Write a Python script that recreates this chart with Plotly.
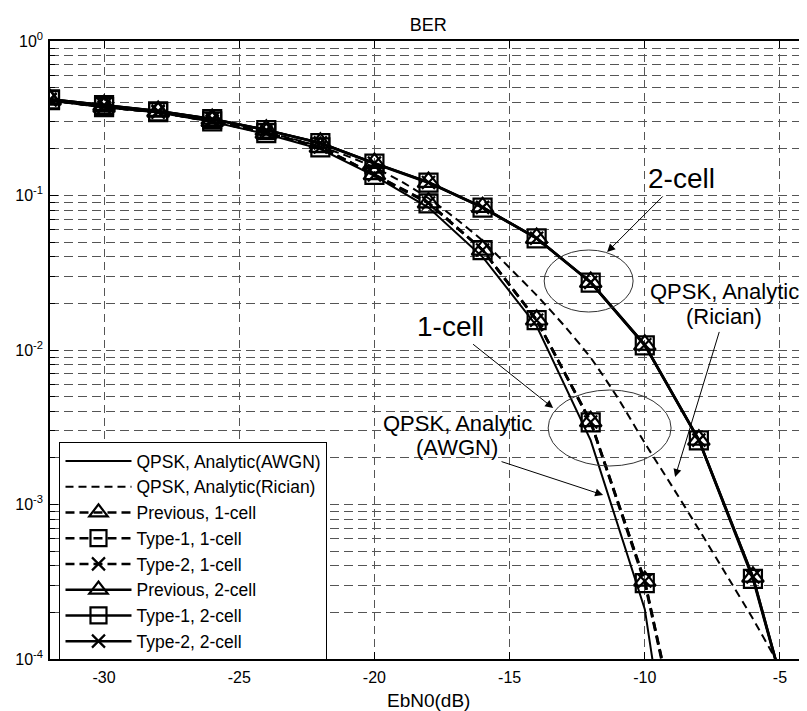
import plotly.graph_objects as go

# ---------------- data ----------------
ebn0_awgn = [-32, -30, -28, -26, -24, -22, -20, -18, -16, -14, -12, -10, -8]
ber_awgn = [0.410, 0.372, 0.344, 0.300, 0.250, 0.200, 0.134, 0.0835, 0.040, 0.0143, 0.0026, 0.00021, 1.05e-6]

ebn0_rician = [-32, -31, -30, -29, -28, -27, -26, -25, -24, -23, -22, -21, -20, -19, -18,
               -17, -16, -15, -14, -13, -12, -11, -10, -9, -8, -7, -6, -5, -4]
ber_rician = [0.412, 0.392, 0.374, 0.360, 0.346, 0.326, 0.305, 0.281, 0.256, 0.232, 0.207,
              0.180, 0.152, 0.123, 0.096, 0.071, 0.051, 0.034, 0.0226, 0.0145, 0.0089,
              0.0049, 0.0025, 0.00132, 0.00069, 0.000355, 0.000182, 8.9e-5, 4.3e-5]

ebn0_1cell = [-32, -30, -28, -26, -24, -22, -20, -18, -16, -14, -12, -10, -8]
prev_1cell = [0.415, 0.374, 0.347, 0.303, 0.254, 0.206, 0.137, 0.0900, 0.0445, 0.0157, 0.00345, 0.00032, 8.0e-6]
type1_1cell = [0.414, 0.373, 0.346, 0.302, 0.253, 0.205, 0.136, 0.0890, 0.0443, 0.0156, 0.00340, 0.00031, 7.6e-6]
type2_1cell = [0.415, 0.374, 0.346, 0.303, 0.254, 0.206, 0.136, 0.0895, 0.0444, 0.0156, 0.00342, 0.00032, 7.8e-6]

ebn0_2cell = [-32, -30, -28, -26, -24, -22, -20, -18, -16, -14, -12, -10, -8, -6, -4]
prev_2cell = [0.420, 0.385, 0.352, 0.313, 0.266, 0.219, 0.162, 0.122, 0.0840, 0.0530, 0.0275, 0.0108, 0.00262, 0.00034, 1.8e-5]
type1_2cell = [0.419, 0.384, 0.351, 0.312, 0.265, 0.218, 0.161, 0.121, 0.0835, 0.0528, 0.0273, 0.0107, 0.00260, 0.00033, 1.8e-5]
type2_2cell = [0.420, 0.385, 0.352, 0.313, 0.265, 0.219, 0.162, 0.1215, 0.0838, 0.0529, 0.0274, 0.0108, 0.00261, 0.00034, 1.8e-5]

x_ticks = [-30, -25, -20, -15, -10, -5]
x_ticktext = ["-30", "-25", "-20", "-15", "-10", "-5"]
y_ticks = [1e-4, 1e-3, 1e-2, 1e-1, 1]
y_ticktext = ["10<sup>-4</sup>", "10<sup>-3</sup>", "10<sup>-2</sup>", "10<sup>-1</sup>", "10<sup>0</sup>"]
y_minor = [m * 10.0 ** e for e in range(-4, 0) for m in range(2, 10)]

FONT = "Arial, Liberation Sans, sans-serif"
BLK = "#000000"

fig = go.Figure()

fig.add_trace(go.Scatter(x=ebn0_awgn, y=ber_awgn, mode="lines", name="QPSK, Analytic(AWGN)",
                         line=dict(color=BLK, width=2)))
fig.add_trace(go.Scatter(x=ebn0_rician, y=ber_rician, mode="lines", name="QPSK, Analytic(Rician)",
                         line=dict(color=BLK, width=2, dash="8px,5px", shape="spline", smoothing=0.6)))

sim_dash = "9px,5px"
mk_line = dict(color=BLK, width=2.2)
fig.add_trace(go.Scatter(x=ebn0_1cell, y=prev_1cell, mode="lines+markers", name="Previous, 1-cell",
                         line=dict(color=BLK, width=2.5, dash=sim_dash),
                         marker=dict(symbol="triangle-up-open", size=19, color=BLK, line=mk_line)))
fig.add_trace(go.Scatter(x=ebn0_1cell, y=type1_1cell, mode="lines+markers", name="Type-1, 1-cell",
                         line=dict(color=BLK, width=2.5, dash=sim_dash),
                         marker=dict(symbol="square-open", size=18, color=BLK, line=mk_line)))
fig.add_trace(go.Scatter(x=ebn0_1cell, y=type2_1cell, mode="lines+markers", name="Type-2, 1-cell",
                         line=dict(color=BLK, width=2.5, dash=sim_dash),
                         marker=dict(symbol="x-thin-open", size=13, color=BLK, line=mk_line)))
fig.add_trace(go.Scatter(x=ebn0_2cell, y=prev_2cell, mode="lines+markers", name="Previous, 2-cell",
                         line=dict(color=BLK, width=2.5),
                         marker=dict(symbol="triangle-up-open", size=19, color=BLK, line=mk_line)))
fig.add_trace(go.Scatter(x=ebn0_2cell, y=type1_2cell, mode="lines+markers", name="Type-1, 2-cell",
                         line=dict(color=BLK, width=2.5),
                         marker=dict(symbol="square-open", size=18, color=BLK, line=mk_line)))
fig.add_trace(go.Scatter(x=ebn0_2cell, y=type2_2cell, mode="lines+markers", name="Type-2, 2-cell",
                         line=dict(color=BLK, width=2.5),
                         marker=dict(symbol="x-thin-open", size=13, color=BLK, line=mk_line)))

GRID = "#555555"
fig.update_xaxes(range=[-32, -4], tickmode="array", tickvals=x_ticks, ticktext=x_ticktext,
                 automargin=False,
                 showline=True, linecolor=BLK, linewidth=1.5, mirror="allticks",
                 ticks="inside", ticklen=7, tickcolor=BLK, tickwidth=1,
                 showgrid=True, gridcolor=GRID, gridwidth=1, griddash="8px,5px",
                 zeroline=False, ticklabelstandoff=3,
                 tickfont=dict(family=FONT, size=16, color=BLK))
fig.update_yaxes(type="log", range=[-4, 0], tickmode="array", tickvals=y_ticks, ticktext=y_ticktext,
                 automargin=False,
                 showline=True, linecolor=BLK, linewidth=1.5, mirror=False,
                 ticks="inside", ticklen=8, tickcolor=BLK, tickwidth=1,
                 showgrid=True, gridcolor=GRID, gridwidth=1, griddash="9px,5px",
                 zeroline=False, ticklabelstandoff=2,
                 tickfont=dict(family=FONT, size=16, color=BLK),
                 minor=dict(tickmode="array", tickvals=y_minor, ticks="inside", ticklen=5,
                            tickcolor=BLK, showgrid=True, gridcolor=GRID, gridwidth=1,
                            griddash="9px,5px"))

# The page body has an 8px default margin, so figure coordinates = window - 8.
OFF = 8
PL, PR, PT, PB = 49.5, 807, 41, 659          # plot area in window pixels
PW, PH = PR - PL, PB - PT


def px(xw):
    return (xw - PL) / PW


def py(yw):
    return (PB - yw) / PH


def txt(s, xw, yw, size):
    return dict(text=s, xref="paper", yref="paper", x=px(xw), y=py(yw), showarrow=False,
                xanchor="center", yanchor="middle", font=dict(family=FONT, size=size, color=BLK))


def arrow_txt(s, tip, center, size):
    return dict(text=s, xref="paper", yref="paper", x=px(tip[0]), y=py(tip[1]),
                ax=center[0] - tip[0], ay=center[1] - tip[1],
                showarrow=True, arrowhead=2, arrowsize=1.6, arrowwidth=1, arrowcolor=BLK,
                standoff=0, startstandoff=2,
                font=dict(family=FONT, size=size, color=BLK))


annotations = [
    txt("EbN0(dB)", 428, 700, 19),
    arrow_txt("2-cell", (607, 252), (681, 178), 28),
    arrow_txt("1-cell", (553, 408), (450, 326), 28),
    txt("QPSK, Analytic", 724.5, 291, 22),
    arrow_txt("(Rician)", (675, 477), (724, 316), 22),
    txt("QPSK, Analytic", 457, 423, 22),
    arrow_txt("(AWGN)", (603, 495), (457, 447), 22),
]

shapes = [
    dict(type="circle", xref="paper", yref="paper", x0=px(544), x1=px(633), y0=py(312), y1=py(250),
         line=dict(color="#333333", width=1)),
    dict(type="circle", xref="paper", yref="paper", x0=px(548), x1=px(671), y0=py(466), y1=py(390),
         line=dict(color="#333333", width=1)),
]

W, H = 807, 711
fig.update_layout(
    width=W, height=H,
    margin=dict(l=PL - OFF, r=W - (PR - OFF), t=PT - OFF, b=H - (PB - OFF), autoexpand=False),
    paper_bgcolor="white", plot_bgcolor="white",
    font=dict(family=FONT, color=BLK),
    title=dict(text="BER", x=px(428), xref="paper", y=1 - (25 - OFF) / H, yref="container",
               xanchor="center", yanchor="middle", font=dict(family=FONT, size=18, color=BLK)),
    showlegend=True,
    legend=dict(x=px(59), y=py(442), xanchor="left", yanchor="top", xref="paper", yref="paper",
                bgcolor="white", bordercolor=BLK, borderwidth=1,
                font=dict(family=FONT, size=17.5, color=BLK), itemwidth=66,
                tracegroupgap=0),
    annotations=annotations, shapes=shapes,
)

fig.write_html("out.html")
